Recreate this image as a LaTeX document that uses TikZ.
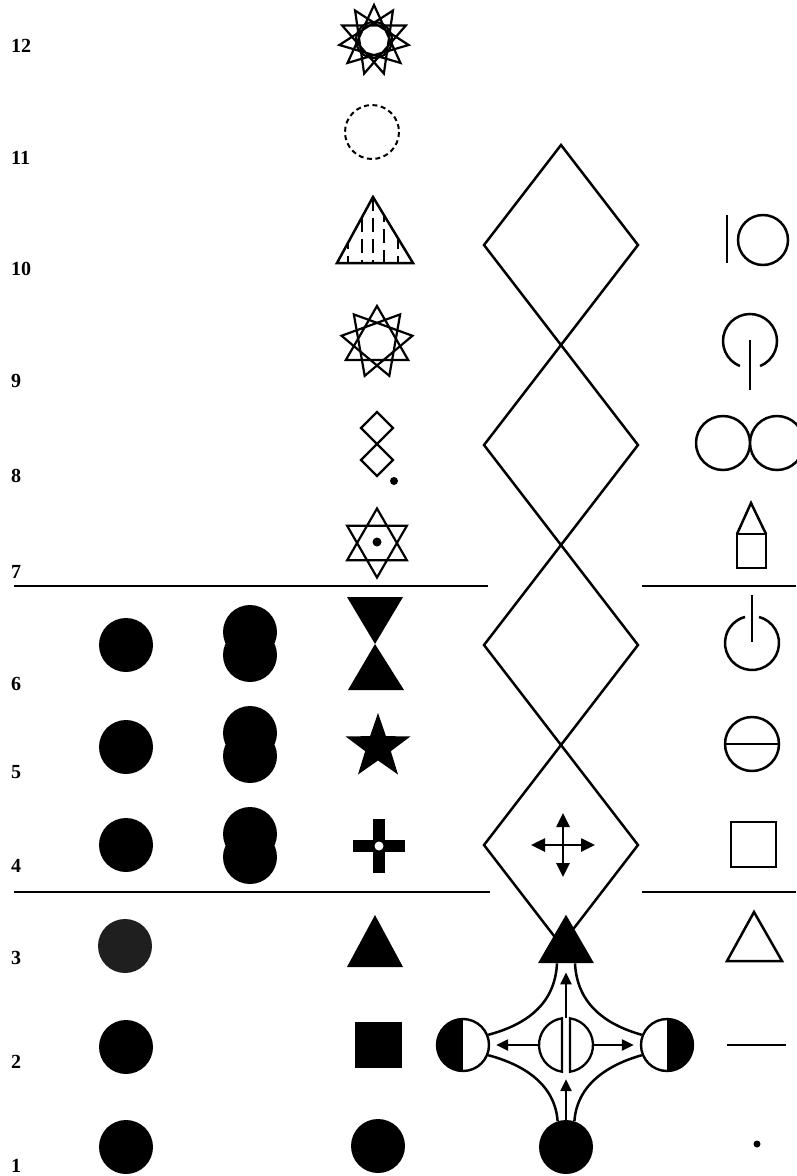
\documentclass[tikz,border=0pt]{standalone}
\usepackage{fontspec}
\newfontfamily\numfont{Liberation Serif}
\usetikzlibrary{arrows.meta,shapes.geometric}
\begin{document}
\begin{tikzpicture}[x=1pt,y=-1pt,line join=miter,
  ln/.style={line width=2.5pt},
  thin2/.style={line width=2.2pt},
  lbl/.style={anchor=west,inner sep=0pt,font=\numfont\fontsize{20}{20}\selectfont\bfseries},
  blob/.style={circle,fill=black,inner sep=0pt,minimum size=54pt},
  arr/.style={-{Triangle[length=12pt,width=11pt]},line width=2.4pt},
  dblarr/.style={{Triangle[length=14pt,width=13pt]}-{Triangle[length=14pt,width=13pt]},line width=2.6pt},
  halfdisc/.style={circle,draw,line width=2.4pt,minimum size=52pt,inner sep=0pt},
]
\useasboundingbox (0,0) rectangle (796,1176);
\fill[white] (0,0) rectangle (796,1176);

% row numbers
\foreach \t/\y in {12/46,11/158,10/269,9/381,8/476,7/572,6/684,5/772,4/866,3/958,2/1062,1/1166}
  \node[lbl] (n\t) at (11,\y) {\t};

% separating lines
\draw[line width=2pt] (14,586) -- (488,586) (642,586) -- (796,586);
\draw[line width=2pt] (14,892) -- (490,892) (642,892) -- (796,892);

% column 1: discs
\foreach \y/\n in {645/a6,747/a5,845/a4,1047/a2,1147/a1}
  \node[blob] (\n) at (126,\y) {};
\node[blob,fill=black!88] (a3) at (125,946) {};

% column 2: double discs
\foreach \y in {632,733,834}
  \fill (250,\y) circle (27) (250,{\y+23}) circle (27);

% column 3, upper part
\draw[thin2,shift={(374,40)}] (-90:35) \foreach \k in {1,...,10}{ -- ({-90+\k*4*360/11}:35)} -- cycle;
\draw[thin2] (374,40) circle (18);
\draw[line width=2pt,dash pattern=on 5pt off 3.5pt] (372,132) circle (27);
\draw[ln] (373,197) -- (413,263) -- (337,263) -- cycle;
\begin{scope}
  \clip (373,197) -- (413,263) -- (337,263) -- cycle;
  \foreach \x/\o in {348/4,362/0,373/0,384/10,398/4}
    \draw[line width=2.4pt,dash pattern=on 14pt off 7pt,dash phase=\o pt] (\x,197) -- (\x,263);
\end{scope}
\foreach \j in {0,1,2}
  \draw[thin2,shift={(377,342)}] ({-90+\j*40}:36) -- ({30+\j*40}:36) -- ({150+\j*40}:36) -- cycle;
\draw[thin2] (377,412) -- (393,428) -- (377,444) -- (361,428) -- cycle;
\draw[thin2] (377,444) -- (393,460) -- (377,476) -- (361,460) -- cycle;
\fill (394,481) circle (4);
\draw[thin2,shift={(377,543)}] (-90:34.5) -- (30:34.5) -- (150:34.5) -- cycle
  (90:34.5) -- (210:34.5) -- (330:34.5) -- cycle;
\fill (377,542) circle (4.5);

% column 3, lower part
\fill (347,597) -- (403,597) -- (375,644) -- cycle;
\fill (375,644) -- (404,690) -- (348,690) -- cycle;
\fill[shift={(378,747)}] (-90:34)
  \foreach \a/\r in {-54/13.5,-18/34,18/13.5,54/34,90/13.5,126/34,162/13.5,198/34,234/13.5}{ -- (\a:\r)} -- cycle;
\fill (353,840) rectangle (405,852);
\fill (373,819) rectangle (385,873);
\fill[white] (379,846) circle (4.5);
\fill (375,915) -- (403,967) -- (347,967) -- cycle;
\fill (355,1022) rectangle (402,1068);
\node[blob] (c1) at (378,1146) {};

% chain of diamonds
\foreach \c in {245,445,645,845}
  \draw[ln] (561,{\c-100}) -- (638,\c) -- (561,{\c+100}) -- (484,\c) -- cycle;
\coordinate (d4) at (563,845);
\draw[dblarr] ([xshift=-32pt]d4) -- ([xshift=32pt]d4);
\draw[dblarr] ([yshift=32pt]d4) -- ([yshift=-32pt]d4);

% bottom figure
\node[regular polygon,regular polygon sides=3,fill=black,inner sep=0pt,minimum size=64.6pt] (T) at (566,947) {};
\node[halfdisc,path picture={\fill (path picture bounding box.south west) rectangle (path picture bounding box.north);}] (L) at (463,1045) {};
\node[halfdisc,path picture={\fill (path picture bounding box.south) rectangle (path picture bounding box.north east);}] (R) at (667,1045) {};
\node[circle,inner sep=0pt,minimum size=54pt] (C) at (566,1045) {};
\node[blob] (B) at (566,1147) {};
\draw[line width=2.3pt] (C.center) ++(98.5:27) arc[start angle=98.5,end angle=261.5,radius=27] -- cycle;
\draw[line width=2.3pt] (C.center) ++(-81.5:27) arc[start angle=-81.5,end angle=81.5,radius=27] -- cycle;
\draw[arr,shorten >=6pt] (C.west) -- (L.east);
\draw[arr,shorten >=6pt] (C.east) -- (R.west);
\draw[arr,shorten >=9pt] (C.north) -- (T.south);
\draw[arr,shorten >=7pt] (B.north) -- (C.south);
\draw[ln] ([xshift=-9pt]T.south) .. controls (555,1005) and (525,1025) .. (L.22);
\draw[ln] ([xshift=9pt]T.south) .. controls (577,1005) and (607,1025) .. (R.158);
\draw[ln] (L.-22) .. controls (525,1065) and (555,1085) .. (B.108);
\draw[ln] (R.202) .. controls (607,1065) and (577,1085) .. (B.72);

% right column
\draw[ln] (727,215) -- (727,263);
\draw[ln] (763,240) circle (25);
\draw[ln] (750,341) ++(112:27) arc[start angle=112,end angle=428,radius=27];
\draw[ln] (750,340) -- (750,390);
\draw[ln] (723,443) circle (27) (777,443) circle (27);
\draw[ln] (737,534) rectangle (766,568);
\draw[ln] (737,534) -- (751,503) -- (766,534);
\draw[ln] (752,643) ++(-75:27) arc[start angle=-75,end angle=255,radius=27];
\draw[ln] (752,595) -- (752,642);
\draw[ln] (752,744) circle (27);
\draw[ln] (725,744) -- (779,744);
\draw[ln] (731,822) rectangle (776,867);
\draw[ln] (754,912) -- (782,961) -- (727,961) -- cycle;
\draw[ln] (727,1045) -- (786,1045);
\fill (757,1144) circle (3.5);
\end{tikzpicture}
\end{document}
